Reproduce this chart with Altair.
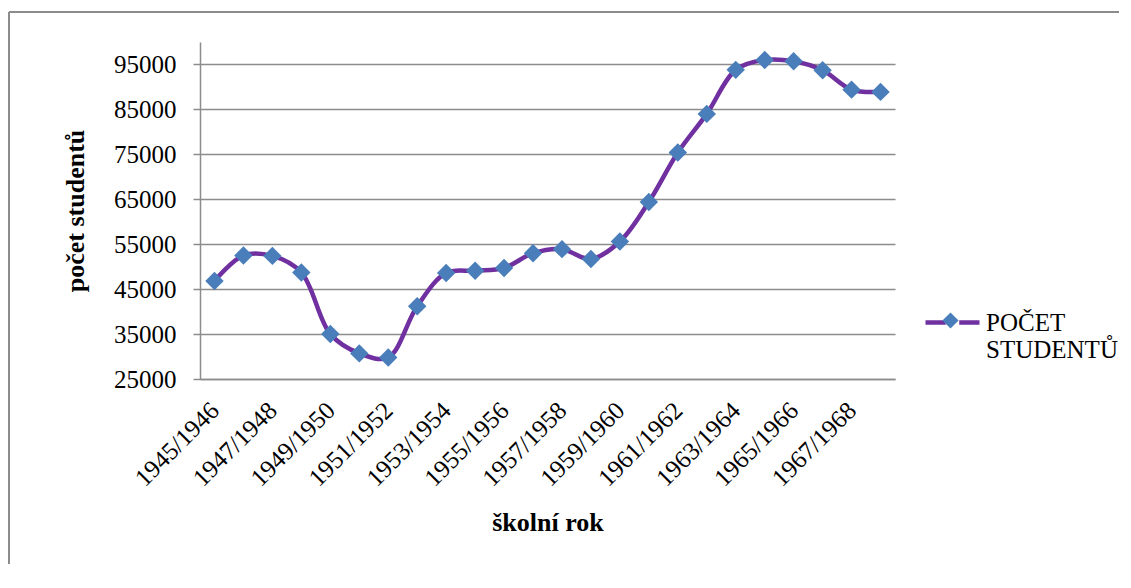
import altair as alt
import pandas as pd

school_years = [
    "1945/1946", "1946/1947", "1947/1948", "1948/1949", "1949/1950", "1950/1951",
    "1951/1952", "1952/1953", "1953/1954", "1954/1955", "1955/1956", "1956/1957",
    "1957/1958", "1958/1959", "1959/1960", "1960/1961", "1961/1962", "1962/1963",
    "1963/1964", "1964/1965", "1965/1966", "1966/1967", "1967/1968", "1968/1969",
]
student_counts = [
    46800, 52500, 52400, 48700, 35000, 30700,
    29800, 41200, 48600, 49100, 49700, 53000,
    53900, 51700, 55600, 64400, 75400, 84000,
    93800, 96000, 95700, 93700, 89400, 88900,
]
x_tick_labels = [
    "1945/1946", "1947/1948", "1949/1950", "1951/1952", "1953/1954", "1955/1956",
    "1957/1958", "1959/1960", "1961/1962", "1963/1964", "1965/1966", "1967/1968",
]
y_tick_values = [25000, 35000, 45000, 55000, 65000, 75000, 85000, 95000]
y_domain = [25000, 100000]
series_name = "POČET STUDENTŮ"
legend_lines = ["POČET", "STUDENTŮ"]

FONT = "Liberation Serif"
GRAY = "#8c8c8c"
PURPLE = "#7030A0"
BLUE = "#4A7EBB"

df = pd.DataFrame({
    "rok": school_years,
    "pocet": student_counts,
    "serie": series_name,
    "serie2": series_name,
})

legend_expr = "[" + ", ".join("'" + s + "'" for s in legend_lines) + "]"

x_enc = alt.X(
    "rok:N",
    sort=school_years,
    scale=alt.Scale(type="point", padding=0.5),
    axis=alt.Axis(
        values=x_tick_labels,
        labelAngle=-45,
        labelAlign="right",
        labelBaseline="middle",
        labelPadding=27,
        ticks=False,
        tickSize=0,
        labelFont=FONT,
        labelFontSize=25,
        labelColor="black",
        labelOverlap=False,
        domainColor=GRAY,
        domainWidth=1.5,
        grid=False,
        title="školní rok",
        titleFont=FONT,
        titleFontSize=26,
        titleFontWeight="bold",
        titleColor="black",
        titleX=347.5,
        titleY=151,
        titleAlign="center",
        titleBaseline="alphabetic",
    ),
)

y_enc = alt.Y(
    "pocet:Q",
    scale=alt.Scale(domain=y_domain, nice=False, zero=False),
    axis=alt.Axis(
        values=y_tick_values,
        format="d",
        tickSize=7,
        tickColor=GRAY,
        tickWidth=1.5,
        labelPadding=17,
        labelFont=FONT,
        labelFontSize=25,
        labelColor="black",
        domainColor=GRAY,
        domainWidth=1.5,
        grid=True,
        gridColor=GRAY,
        gridWidth=1.5,
        title="počet studentů",
        titleFont=FONT,
        titleFontSize=26,
        titleFontWeight="bold",
        titleColor="black",
        titleAngle=270,
        titleX=-117,
        titleY=168.5,
        titleAlign="center",
        titleBaseline="alphabetic",
    ),
)

line = alt.Chart(df).mark_line(interpolate="catmull-rom", strokeWidth=4.5).encode(
    x=x_enc,
    y=y_enc,
    stroke=alt.Stroke(
        "serie:N",
        scale=alt.Scale(range=[PURPLE]),
        legend=alt.Legend(
            title=None,
            orient="none",
            legendX=723,
            legendY=251,
            padding=0,
            symbolType="M-1,0L-0.25,0M0.25,0L1,0",
            symbolSize=2916,
            symbolStrokeWidth=4.5,
            symbolStrokeColor=PURPLE,
            labelExpr=legend_expr,
            labelFont=FONT,
            labelFontSize=25,
            labelColor="black",
            labelOffset=4,
            labelLimit=400,
        ),
    ),
)

points = alt.Chart(df).mark_point(shape="diamond", filled=True, size=340, opacity=1).encode(
    x=x_enc,
    y=y_enc,
    fill=alt.Fill(
        "serie2:N",
        scale=alt.Scale(range=[BLUE]),
        legend=alt.Legend(
            title=None,
            orient="none",
            legendX=742,
            legendY=270,
            padding=0,
            symbolType="diamond",
            symbolSize=260,
            symbolFillColor=BLUE,
            symbolStrokeWidth=0,
            labelExpr="''",
            labelFont=FONT,
            labelFontSize=1,
            labelOpacity=0,
            labelOffset=0,
        ),
    ),
)

frame_df = pd.DataFrame({"k": [0]})
frame_left = alt.Chart(frame_df).mark_rule(color=GRAY, strokeWidth=2).encode(
    x=alt.value(-191), y=alt.value(-30), y2=alt.value(700)
)
frame_top = alt.Chart(frame_df).mark_rule(color=GRAY, strokeWidth=2).encode(
    x=alt.value(-191), x2=alt.value(931), y=alt.value(-30)
)

chart = (
    alt.layer(frame_left, frame_top, line, points)
    .resolve_scale(stroke="independent", fill="independent")
    .properties(
        width=695,
        height=337,
        padding={"left": 192, "top": 34, "right": 224, "bottom": 185},
        autosize=alt.AutoSizeParams(type="none"),
    )
    .configure_view(stroke=None)
)

chart.save("out.html", embed_options={"renderer": "svg", "actions": False})
